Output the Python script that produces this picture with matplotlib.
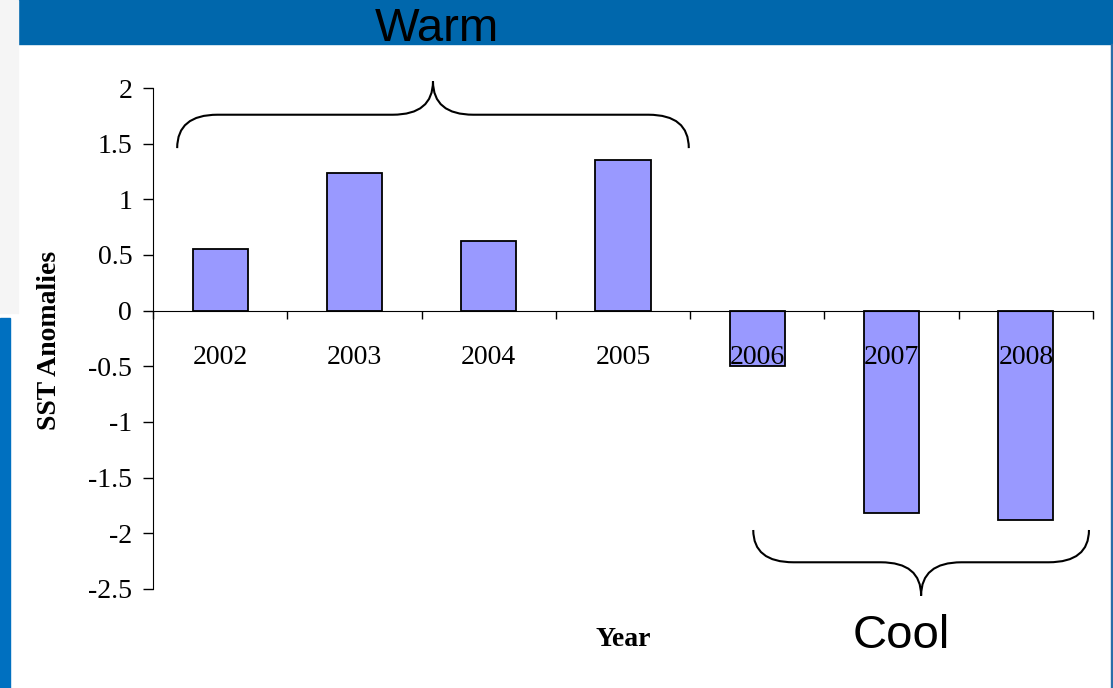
import numpy as np
import matplotlib.pyplot as plt
from matplotlib.path import Path
from matplotlib.patches import PathPatch, Rectangle

# data
years = ["2002", "2003", "2004", "2005", "2006", "2007", "2008"]
sst_anomalies = [0.55, 1.24, 0.63, 1.35, -0.50, -1.82, -1.88]
y_ticks = [2, 1.5, 1, 0.5, 0, -0.5, -1, -1.5, -2, -2.5]
y_tick_labels = ["2", "1.5", "1", "0.5", "0", "-0.5", "-1", "-1.5", "-2", "-2.5"]

serif = ["Liberation Serif", "DejaVu Serif"]
sans = ["Liberation Sans", "DejaVu Sans"]

fig = plt.figure(figsize=(11.13, 6.88), dpi=100)

# slide decoration: header bar and side strips
fig.patches.append(Rectangle((18 / 1113, 1 - 44 / 688), 1, 44 / 688,
                             transform=fig.transFigure, color="#0067ac", zorder=0))
fig.patches.append(Rectangle((0, 1 - 313 / 688), 18 / 1113, 313 / 688,
                             transform=fig.transFigure, color="#f5f5f5", zorder=0))
fig.patches.append(Rectangle((0, 0), 10 / 1113, 1 - 318 / 688,
                             transform=fig.transFigure, color="#0070c0", zorder=0))
fig.patches.append(Rectangle((1 - 2 / 1113, 0), 2 / 1113, 1 - 44 / 688,
                             transform=fig.transFigure, color="#2a6fa8", zorder=0))

ax = fig.add_axes([153 / 1113, 1 - 589 / 688, 940 / 1113, 501 / 688])
ax.patch.set_alpha(0)

x = np.arange(len(years))
ax.bar(x, sst_anomalies, width=0.41, color="#9999ff", edgecolor="black", linewidth=1.3, zorder=2)

ax.set_xlim(-0.5, len(years) - 0.5)
ax.set_ylim(-2.5, 2)

ax.spines["top"].set_visible(False)
ax.spines["right"].set_visible(False)
ax.spines["bottom"].set_position(("data", 0))
ax.spines["bottom"].set_zorder(3)

ax.set_yticks(y_ticks, y_tick_labels, fontfamily=serif, fontsize=20)
ax.tick_params(axis="y", direction="out", length=7, pad=8, width=1)

# category boundaries get the tick marks, centers get the labels
ax.set_xticks(np.arange(len(years) + 1) - 0.5, [""] * (len(years) + 1))
ax.set_xticks(x, years, minor=True, fontfamily=serif, fontsize=20)
ax.tick_params(axis="x", which="major", direction="out", length=6, width=1)
ax.tick_params(axis="x", which="minor", length=0, pad=24.5)
ax.xaxis.set_zorder(5)

fig.text(50 / 1113, 1 - 340 / 688, "SST Anomalies", fontfamily=serif, fontsize=20,
         fontweight="bold", rotation=90, ha="center", va="center")
fig.text(623 / 1113, 1 - 640 / 688, "Year", fontfamily=serif, fontsize=20,
         fontweight="bold", ha="center", va="center")


def brace(ax, x0, x1, y_end, y_line, y_tip, rx):
    xm = (x0 + x1) / 2
    verts = [(x0, y_end), (x0, y_line), (x0 + rx, y_line),
             (xm - rx, y_line), (xm, y_line), (xm, y_tip),
             (xm, y_line), (xm + rx, y_line),
             (x1 - rx, y_line), (x1, y_line), (x1, y_end)]
    codes = [Path.MOVETO, Path.CURVE3, Path.CURVE3,
             Path.LINETO, Path.CURVE3, Path.CURVE3,
             Path.CURVE3, Path.CURVE3,
             Path.LINETO, Path.CURVE3, Path.CURVE3]
    ax.add_patch(PathPatch(Path(verts, codes), fill=False, edgecolor="black",
                           linewidth=1.5, clip_on=False, zorder=4))


brace(ax, -0.32, 3.49, 1.46, 1.76, 2.06, 0.3)
brace(ax, 3.97, 6.47, -1.97, -2.26, -2.56, 0.3)

fig.text(437 / 1113, 1 - 29 / 688, "Warm", fontfamily=sans, fontsize=34,
         ha="center", va="center", zorder=5)
fig.text(901 / 1113, 1 - 636 / 688, "Cool", fontfamily=sans, fontsize=34,
         ha="center", va="center", zorder=5)

fig.savefig("out.png", dpi=100)
